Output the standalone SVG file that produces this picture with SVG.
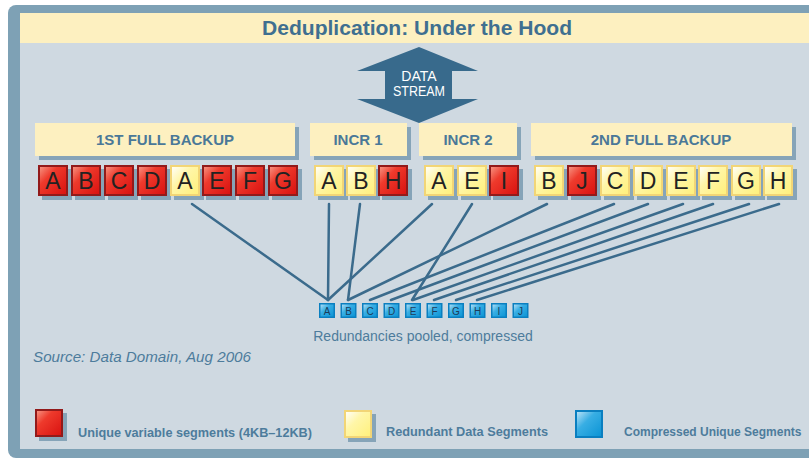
<svg xmlns="http://www.w3.org/2000/svg" xmlns:xlink="http://www.w3.org/1999/xlink" width="809" height="461" viewBox="0 0 809 461">
<defs>
<style>
.lbl{font-family:"Liberation Sans",Arial,sans-serif;font-size:15px;font-weight:bold;fill:#4a7898;text-anchor:middle}
.seg{font-family:"Liberation Sans",Arial,sans-serif;font-size:23px;fill:#222;text-anchor:middle}
.bseg{font-family:"Liberation Sans",Arial,sans-serif;font-size:10px;fill:#1d3d5a;text-anchor:middle}
.leg{font-family:"Liberation Sans",Arial,sans-serif;font-size:13px;font-weight:bold;fill:#4d7c9c}
.shadow{fill:#86a4b8}
.banner{fill:#fdf0c0}
.conn{stroke:#3b6b8c;stroke-width:2.5;stroke-linecap:round;fill:none}
</style>
<linearGradient id="gr" x1="0" y1="0" x2="1" y2="1">
<stop offset="0" stop-color="#f79a88"/><stop offset="0.35" stop-color="#ee3a2c"/><stop offset="1" stop-color="#d8100f"/>
</linearGradient>
<linearGradient id="gy" x1="0" y1="0" x2="1" y2="1">
<stop offset="0" stop-color="#ffffff"/><stop offset="0.4" stop-color="#fff6a8"/><stop offset="1" stop-color="#fff07a"/>
</linearGradient>
<linearGradient id="gb" x1="0" y1="0" x2="1" y2="1">
<stop offset="0" stop-color="#c4e6f8"/><stop offset="0.4" stop-color="#38aee4"/><stop offset="1" stop-color="#0993d4"/>
</linearGradient>
<g id="red">
<rect x="4" y="4" width="30" height="31" class="shadow"/>
<rect x="1" y="1" width="28" height="29" fill="url(#gr)" stroke="#921a1a" stroke-width="2"/>
</g>
<g id="yel">
<rect x="4" y="4" width="30" height="31" class="shadow"/>
<rect x="1" y="1" width="28" height="29" fill="url(#gy)" stroke="#f2d576" stroke-width="2"/>
</g>
<g id="blu">
<rect x="0.75" y="0.75" width="14.5" height="13.5" fill="url(#gb)" stroke="#0a7fc0" stroke-width="1.5"/>
</g>
</defs>

<rect width="809" height="461" fill="#ffffff"/>
<g id="frame">
<rect x="8" y="5" width="820" height="453" rx="8" fill="#7ea1b5"/>
<rect x="20" y="13" width="800" height="436" fill="#cfd9e1"/>
<rect x="20" y="13" width="800" height="30" class="banner"/>
<text x="417" y="35" font-family="Liberation Sans,Arial,sans-serif" font-size="21" font-weight="bold" fill="#3f6f90" text-anchor="middle" textLength="310" lengthAdjust="spacingAndGlyphs">Deduplication: Under the Hood</text>
</g>

<g id="data-stream">
<polygon points="419,47 478,71 452,71 452,99 478,99 419,123 357,99 385,99 385,71 357,71" fill="#386a8c"/>
<text x="419" y="81" font-family="Liberation Sans,Arial,sans-serif" font-size="14" fill="#ffffff" text-anchor="middle">DATA</text>
<text x="419" y="96" font-family="Liberation Sans,Arial,sans-serif" font-size="14" fill="#ffffff" text-anchor="middle" textLength="52" lengthAdjust="spacingAndGlyphs">STREAM</text>
</g>

<g id="label-full1"><rect x="39" y="127" width="260" height="33" class="shadow"/><rect x="35" y="123" width="260" height="33" class="banner"/><text x="165" y="145" class="lbl">1ST FULL BACKUP</text></g>
<g id="label-incr1"><rect x="314" y="127" width="97" height="33" class="shadow"/><rect x="310" y="123" width="97" height="33" class="banner"/><text x="358" y="145" class="lbl">INCR 1</text></g>
<g id="label-incr2"><rect x="423" y="127" width="98" height="33" class="shadow"/><rect x="419" y="123" width="98" height="33" class="banner"/><text x="468" y="145" class="lbl">INCR 2</text></g>
<g id="label-full2"><rect x="535" y="127" width="261" height="33" class="shadow"/><rect x="531" y="123" width="261" height="33" class="banner"/><text x="661" y="145" class="lbl">2ND FULL BACKUP</text></g>

<g id="connectors" class="conn">
<line x1="192" y1="204" x2="328" y2="300"/>
<line x1="329" y1="204" x2="328" y2="300"/>
<line x1="360" y1="204" x2="348" y2="300"/>
<line x1="432" y1="204" x2="328" y2="300"/>
<line x1="472" y1="204" x2="412" y2="300"/>
<line x1="547" y1="204" x2="348" y2="300"/>
<line x1="614" y1="204" x2="370" y2="300"/>
<line x1="648" y1="204" x2="391" y2="300"/>
<line x1="683" y1="204" x2="413" y2="300"/>
<line x1="713" y1="204" x2="434" y2="300"/>
<line x1="749" y1="204" x2="456" y2="300"/>
<line x1="779" y1="204" x2="477" y2="300"/>
</g>

<g id="f1-a1"><use xlink:href="#red" x="38" y="165"/><text x="53" y="189" class="seg">A</text></g>
<g id="f1-b"><use xlink:href="#red" x="71" y="165"/><text x="86" y="189" class="seg">B</text></g>
<g id="f1-c"><use xlink:href="#red" x="104" y="165"/><text x="119" y="189" class="seg">C</text></g>
<g id="f1-d"><use xlink:href="#red" x="137" y="165"/><text x="152" y="189" class="seg">D</text></g>
<g id="f1-a2"><use xlink:href="#yel" x="170" y="165"/><text x="185" y="189" class="seg">A</text></g>
<g id="f1-e"><use xlink:href="#red" x="202" y="165"/><text x="217" y="189" class="seg">E</text></g>
<g id="f1-f"><use xlink:href="#red" x="235" y="165"/><text x="250" y="189" class="seg">F</text></g>
<g id="f1-g"><use xlink:href="#red" x="268" y="165"/><text x="283" y="189" class="seg">G</text></g>

<g id="i1-a"><use xlink:href="#yel" x="314" y="165"/><text x="329" y="189" class="seg">A</text></g>
<g id="i1-b"><use xlink:href="#yel" x="346" y="165"/><text x="361" y="189" class="seg">B</text></g>
<g id="i1-h"><use xlink:href="#red" x="378" y="165"/><text x="393" y="189" class="seg">H</text></g>

<g id="i2-a"><use xlink:href="#yel" x="424" y="165"/><text x="439" y="189" class="seg">A</text></g>
<g id="i2-e"><use xlink:href="#yel" x="457" y="165"/><text x="472" y="189" class="seg">E</text></g>
<g id="i2-i"><use xlink:href="#red" x="489" y="165"/><text x="504" y="189" class="seg">I</text></g>

<g id="f2-b"><use xlink:href="#yel" x="534" y="165"/><text x="549" y="189" class="seg">B</text></g>
<g id="f2-j"><use xlink:href="#red" x="567" y="165"/><text x="582" y="189" class="seg">J</text></g>
<g id="f2-c"><use xlink:href="#yel" x="600" y="165"/><text x="615" y="189" class="seg">C</text></g>
<g id="f2-d"><use xlink:href="#yel" x="633" y="165"/><text x="648" y="189" class="seg">D</text></g>
<g id="f2-e"><use xlink:href="#yel" x="666" y="165"/><text x="681" y="189" class="seg">E</text></g>
<g id="f2-f"><use xlink:href="#yel" x="698" y="165"/><text x="713" y="189" class="seg">F</text></g>
<g id="f2-g"><use xlink:href="#yel" x="731" y="165"/><text x="746" y="189" class="seg">G</text></g>
<g id="f2-h"><use xlink:href="#yel" x="763" y="165"/><text x="778" y="189" class="seg">H</text></g>

<g id="p-a"><use xlink:href="#blu" x="319" y="303"/><text x="327" y="314.5" class="bseg">A</text></g>
<g id="p-b"><use xlink:href="#blu" x="340.5" y="303"/><text x="348.5" y="314.5" class="bseg">B</text></g>
<g id="p-c"><use xlink:href="#blu" x="362" y="303"/><text x="370" y="314.5" class="bseg">C</text></g>
<g id="p-d"><use xlink:href="#blu" x="383.5" y="303"/><text x="391.5" y="314.5" class="bseg">D</text></g>
<g id="p-e"><use xlink:href="#blu" x="405" y="303"/><text x="413" y="314.5" class="bseg">E</text></g>
<g id="p-f"><use xlink:href="#blu" x="426.5" y="303"/><text x="434.5" y="314.5" class="bseg">F</text></g>
<g id="p-g"><use xlink:href="#blu" x="448" y="303"/><text x="456" y="314.5" class="bseg">G</text></g>
<g id="p-h"><use xlink:href="#blu" x="469.5" y="303"/><text x="477.5" y="314.5" class="bseg">H</text></g>
<g id="p-i"><use xlink:href="#blu" x="491" y="303"/><text x="499" y="314.5" class="bseg">I</text></g>
<g id="p-j"><use xlink:href="#blu" x="512.5" y="303"/><text x="520.5" y="314.5" class="bseg">J</text></g>

<text x="423" y="341" font-family="Liberation Sans,Arial,sans-serif" font-size="14" fill="#4d7c9c" text-anchor="middle">Redundancies pooled, compressed</text>
<text x="33" y="362" font-family="Liberation Sans,Arial,sans-serif" font-size="15" font-style="italic" fill="#4d7c9c" textLength="218" lengthAdjust="spacingAndGlyphs">Source: Data Domain, Aug 2006</text>

<g id="legend-unique">
<rect x="39" y="413" width="28" height="28" class="shadow"/>
<rect x="36" y="410" width="26" height="26" fill="url(#gr)" stroke="#921a1a" stroke-width="2"/>
<text x="78" y="437" class="leg" textLength="234" lengthAdjust="spacingAndGlyphs">Unique variable segments (4KB–12KB)</text>
</g>
<g id="legend-redundant">
<rect x="348" y="414" width="28" height="28" class="shadow"/>
<rect x="345" y="411" width="26" height="26" fill="url(#gy)" stroke="#f2d576" stroke-width="2"/>
<text x="386" y="436" class="leg" textLength="162" lengthAdjust="spacingAndGlyphs">Redundant Data Segments</text>
</g>
<g id="legend-compressed">
<rect x="576" y="411" width="26" height="26" fill="url(#gb)" stroke="#0a7fc0" stroke-width="2"/>
<text x="624" y="436" class="leg" style="font-size:12px">Compressed Unique Segments</text>
</g>
</svg>
